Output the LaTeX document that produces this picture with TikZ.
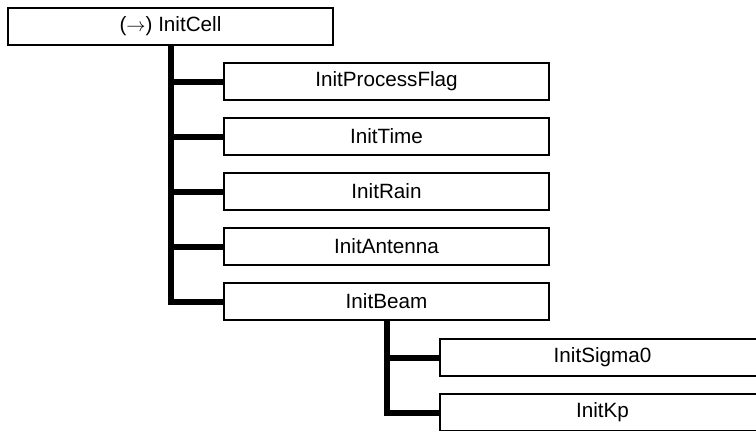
\documentclass[tikz,border=0pt]{standalone}
\usepackage{fontspec}
\setmainfont{Liberation Sans}
\begin{document}
\begin{tikzpicture}[x=0.75pt,y=-0.75pt,
  box/.style={draw, line width=1.5pt, minimum width=243.75pt, minimum height=27.75pt,
    inner sep=0pt, font=\fontsize{15.5}{18}\selectfont},
  link/.style={line width=4.5pt}]
\path[use as bounding box, clip] (0,0) rectangle (756,430);

\pgfmathsetmacro{\childx}{386.5};
\pgfmathsetmacro{\gap}{55};

\node[box] (cell) at (170.5,26) {($\rightarrow$) InitCell};

\foreach \name/\txt [count=\i from 0] in {flag/InitProcessFlag, time/InitTime, rain/InitRain, antenna/InitAntenna, beam/InitBeam} {
  \node[box] (\name) at (\childx,{81.5+\gap*\i}) {\txt};
  \draw[link] (cell.south) |- (\name.west);
}

% children of the beam
\node[box] (sigma) at (602.5,357.5) {InitSigma0};
\node[box] (kp) at (602.5,412.5) {InitKp};
\draw[link] (beam.south) |- (sigma.west);
\draw[link] (beam.south) |- (kp.west);
\end{tikzpicture}
\end{document}
